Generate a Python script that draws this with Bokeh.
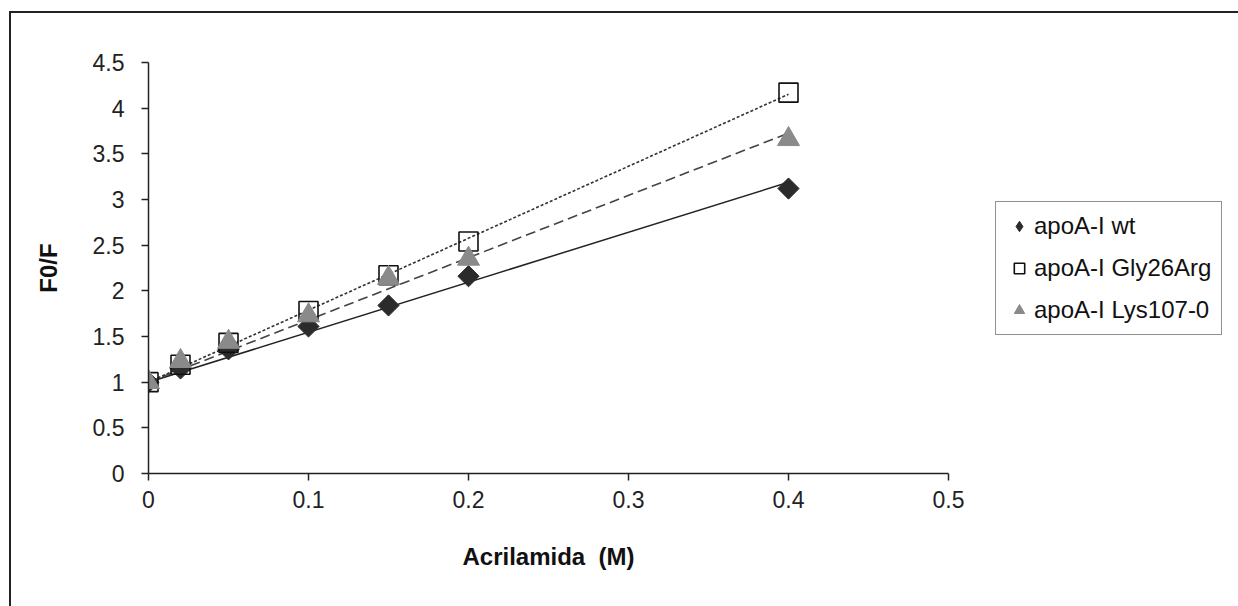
import numpy as np
from bokeh.plotting import figure
from bokeh.models import Legend, LegendItem, FixedTicker
from bokeh.embed import file_html
from bokeh.resources import INLINE

# ---- data ----
acrilamida = [0.0, 0.02, 0.05, 0.10, 0.15, 0.20, 0.40]
wt = [1.00, 1.15, 1.36, 1.61, 1.84, 2.16, 3.12]
gly26arg = [1.00, 1.19, 1.43, 1.78, 2.17, 2.54, 4.17]
lys107 = [1.00, 1.23, 1.44, 1.73, 2.14, 2.35, 3.66]
series_names = ["apoA-I wt", "apoA-I Gly26Arg", "apoA-I Lys107-0"]
x_ticks = [0, 0.1, 0.2, 0.3, 0.4, 0.5]
x_tick_labels = ["0", "0.1", "0.2", "0.3", "0.4", "0.5"]
y_ticks = [0, 0.5, 1, 1.5, 2, 2.5, 3, 3.5, 4, 4.5]
y_tick_labels = ["0", "0.5", "1", "1.5", "2", "2.5", "3", "3.5", "4", "4.5"]

FONT = "Liberation Sans"

p = figure(width=1227, height=593, output_backend="svg", toolbar_location=None,
           x_range=(0, 0.5), y_range=(0, 4.5),
           min_border_left=137, min_border_top=49, min_border_right=0, min_border_bottom=133,
           frame_width=800, frame_height=411)
p.styles = {"margin-left": "9px", "margin-top": "11px",
            "border-left": "2px solid #222", "border-top": "2px solid #222"}
p.outline_line_color = None
p.xgrid.visible = False
p.ygrid.visible = False
p.background_fill_color = "white"
p.border_fill_color = "white"

for ax in (p.xaxis[0], p.yaxis[0]):
    ax.axis_line_color = "#222"
    ax.axis_line_width = 1.5
    ax.major_tick_line_color = "#222"
    ax.major_tick_line_width = 1.5
    ax.major_tick_out = 7
    ax.major_tick_in = 0
    ax.minor_tick_line_color = None
    ax.major_label_text_font = FONT
    ax.major_label_text_font_size = "23px"
    ax.major_label_text_color = "#222"
    ax.axis_label_text_font = FONT
    ax.axis_label_text_font_size = "24px"
    ax.axis_label_text_font_style = "bold"
    ax.axis_label_text_color = "#111"

p.xaxis.ticker = FixedTicker(ticks=x_ticks)
p.yaxis.ticker = FixedTicker(ticks=y_ticks)
p.xaxis.major_label_overrides = {t: l for t, l in zip(x_ticks, x_tick_labels)}
p.yaxis.major_label_overrides = {t: l for t, l in zip(y_ticks, y_tick_labels)}
p.xaxis.axis_label = "Acrilamida\u00a0\u00a0(M)"
p.yaxis.axis_label = "F0/F"
p.xaxis.major_label_standoff = 10
p.yaxis.major_label_standoff = 17
p.xaxis.axis_label_standoff = 32
p.yaxis.axis_label_standoff = 28

# trend lines (linear fit with intercept fixed at 1, as in Stern-Volmer plots)
x = np.array(acrilamida)
def fit_line(y):
    y = np.array(y)
    k = np.sum(x * (y - 1)) / np.sum(x * x)
    xs = np.array([0.0, x.max()])
    return xs, 1 + k * xs

xs, ys = fit_line(wt)
p.line(xs, ys, line_color="#222", line_width=1.5)
xs, ys = fit_line(lys107)
p.line(xs, ys, line_color="#444", line_width=1.6, line_dash="10 5")
xs, ys = fit_line(gly26arg)
p.line(xs, ys, line_color="#333", line_width=1.6, line_dash="3 2")

r_wt = p.scatter(acrilamida, wt, marker="square", angle=np.pi / 4, size=15,
                 fill_color="#2b2b2b", line_color="#2b2b2b")
r_gly = p.scatter(acrilamida, gly26arg, marker="square", size=19,
                  fill_color="white", fill_alpha=0.0, line_color="#111", line_width=1.6)
r_lys = p.scatter(acrilamida, lys107, marker="triangle", size=22,
                  fill_color="#8a8a8a", line_color="#8a8a8a")
# legend-only glyph for the diamond (legend does not rotate markers)
r_wt_key = p.scatter([np.nan], [np.nan], marker="diamond", size=16,
                     fill_color="#2b2b2b", line_color="#2b2b2b")

legend = Legend(items=[LegendItem(label=series_names[0], renderers=[r_wt_key]),
                       LegendItem(label=series_names[1], renderers=[r_gly]),
                       LegendItem(label=series_names[2], renderers=[r_lys])],
                location=(47, 138))
legend.label_text_font = FONT
legend.label_text_font_size = "24px"
legend.label_text_color = "#111"
legend.border_line_color = "#222"
legend.border_line_width = 1.5
legend.background_fill_color = "white"
legend.padding = 10
legend.spacing = 14
legend.glyph_width = 26
legend.glyph_height = 26
legend.label_height = 26
legend.label_standoff = 2
legend.margin = 0
p.add_layout(legend, "right")

open("out.html", "w").write(file_html(p, INLINE))
